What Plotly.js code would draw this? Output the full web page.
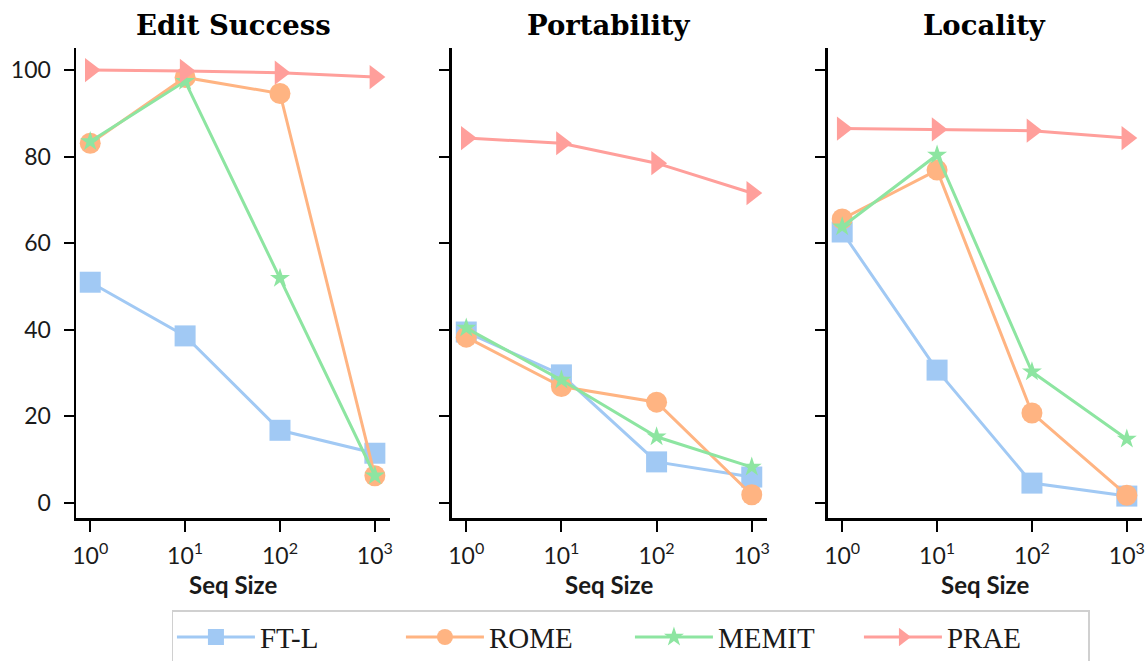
<!DOCTYPE html>
<html>
<head>
<meta charset="utf-8">
<script src="https://cdn.plot.ly/plotly-3.0.1.min.js"></script>
<style>
  html, body { margin: 0; padding: 0; background: #ffffff; }
  #chart { width: 1147px; height: 661px; }
</style>
</head>
<body>
<div id="chart"></div>
<script>
// ---- data ----
var seqSizes = [1, 10, 100, 1000];
var xTickText = ['10<sup>0</sup>', '10<sup>1</sup>', '10<sup>2</sup>', '10<sup>3</sup>'];
var yTickVals = [0, 20, 40, 60, 80, 100];
var panelTitles = ['Edit Success', 'Portability', 'Locality'];
var xAxisTitle = 'Seq Size';
var methods = ['FT-L', 'ROME', 'MEMIT', 'PRAE'];

var ftlEdit   = [51.0, 38.6, 16.8, 11.5];
var romeEdit  = [83.1, 98.3, 94.6, 6.3];
var memitEdit = [83.5, 97.4, 51.9, 6.3];
var praeEdit  = [100.0, 99.8, 99.4, 98.4];

var ftlPort   = [39.5, 29.6, 9.5, 6.0];
var romePort  = [38.3, 26.9, 23.3, 1.9];
var memitPort = [40.4, 28.4, 15.3, 8.3];
var praePort  = [84.3, 83.1, 78.5, 71.6];

var ftlLoc    = [62.6, 30.7, 4.6, 1.6];
var romeLoc   = [65.6, 76.9, 20.8, 1.8];
var memitLoc  = [63.8, 80.4, 30.3, 14.8];
var praeLoc   = [86.5, 86.3, 86.0, 84.3];

// ---- styles ----
var colors  = ['#a1c9f4', '#ffb482', '#8de5a1', '#ff9f9b'];
var symbols = ['square', 'circle', 'star', 'triangle-right'];
var msizes  = [21, 21, 15, 21];

var panelData = [
  [ftlEdit, romeEdit, memitEdit, praeEdit],
  [ftlPort, romePort, memitPort, praePort],
  [ftlLoc, romeLoc, memitLoc, praeLoc]
];

var traces = [];
panelData.forEach(function(series, p) {
  var ax = p === 0 ? '' : String(p + 1);
  series.forEach(function(vals, m) {
    traces.push({
      x: seqSizes, y: vals,
      type: 'scatter', mode: 'lines+markers',
      name: methods[m],
      legendgroup: methods[m],
      showlegend: p === 0,
      xaxis: 'x' + ax, yaxis: 'y' + ax,
      line: {color: colors[m], width: 3},
      marker: {color: colors[m], symbol: symbols[m], size: msizes[m], line: {width: 0}},
      cliponaxis: false
    });
  });
});

var domains = [[0, 0.2946], [0.3527, 0.6482], [0.7054, 1.0]];
var tickFont = {family: 'Lato, sans-serif', size: 23, color: '#1a1a1a'};

function xAxis(i) {
  return {
    type: 'log', domain: domains[i], range: [-0.15, 3.16],
    tickvals: seqSizes, ticktext: xTickText,
    showline: true, linecolor: '#000', linewidth: 2.5,
    ticks: 'outside', ticklen: 11, tickwidth: 2, tickcolor: '#000',
    showgrid: false, zeroline: false,
    tickfont: tickFont, ticklabelstandoff: 5,
    anchor: i === 0 ? 'y' : 'y' + (i + 1)
  };
}
function yAxis(i) {
  return {
    range: [-3.46, 105.1], tickvals: yTickVals,
    showline: true, linecolor: '#000', linewidth: 2.5,
    ticks: 'outside', ticklen: 10, tickwidth: 2, tickcolor: '#000',
    showgrid: false, zeroline: false,
    showticklabels: i === 0,
    tickfont: tickFont, ticklabelstandoff: 8,
    anchor: i === 0 ? 'x' : 'x' + (i + 1)
  };
}

var annotations = [];
panelTitles.forEach(function(t, i) {
  var cx = (domains[i][0] + domains[i][1]) / 2;
  annotations.push({
    text: '<b>' + t + '</b>', xref: 'paper', yref: 'paper',
    x: cx, y: 1.049, xanchor: 'center', yanchor: 'middle', showarrow: false,
    font: {family: '"DejaVu Serif", serif', size: 27.5, color: '#000'}
  });
  annotations.push({
    text: '<b>' + xAxisTitle + '</b>', xref: 'paper', yref: 'paper',
    x: cx, y: -0.141, xanchor: 'center', yanchor: 'middle', showarrow: false,
    font: {family: 'Lato, sans-serif', size: 24, color: '#1a1a1a'}
  });
});

var layout = {
  width: 1147, height: 661,
  margin: {l: 76, r: 5, t: 48, b: 143, autoexpand: false},
  paper_bgcolor: '#ffffff', plot_bgcolor: '#ffffff',
  showlegend: true,
  legend: {
    orientation: 'h', x: 0.09, xanchor: 'left', y: -0.196, yanchor: 'top',
    font: {family: '"Liberation Serif", serif', size: 29, color: '#1a1a1a'},
    bordercolor: '#d0d0d0', borderwidth: 1.5, bgcolor: '#ffffff',
    entrywidth: 136, entrywidthmode: 'pixels', itemwidth: 78
  },
  annotations: annotations
};
for (var i = 0; i < 3; i++) {
  var s = i === 0 ? '' : String(i + 1);
  layout['xaxis' + s] = xAxis(i);
  layout['yaxis' + s] = yAxis(i);
}

Plotly.newPlot('chart', traces, layout, {displayModeBar: false, staticPlot: true});
</script>
</body>
</html>
